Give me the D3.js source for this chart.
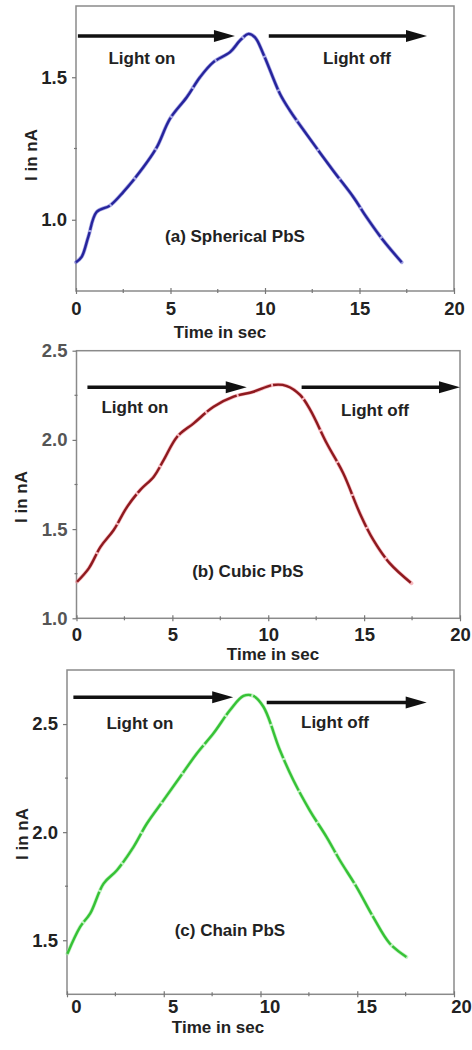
<!DOCTYPE html>
<html>
<head>
<meta charset="utf-8">
<script src="https://cdn.jsdelivr.net/npm/d3@7"></script>
<style>
  body { margin: 0; background: #fff; }
  text { font-family: "Liberation Sans", Arial, sans-serif; font-weight: bold; }
</style>
</head>
<body>
<div id="wrapper"></div>
<script>
// time axis (s) shared by all panels
const xTicks = [0, 5, 10, 15, 20];
const xMinor = [2.5, 7.5, 12.5, 17.5];

// (a) spherical PbS
const timeA = [0, 0.3, 0.65, 1.09, 1.8, 2.5, 3.56, 4.27, 4.97, 5.86, 6.56, 7.27, 8.15, 8.68, 9.12, 9.47, 9.91, 10.79, 11.32, 12.2, 13.6, 14.67, 15.37, 16.25, 17.23];
const currentA = [0.851, 0.87, 0.94, 1.027, 1.05, 1.097, 1.184, 1.254, 1.354, 1.43, 1.5, 1.553, 1.588, 1.629, 1.652, 1.64, 1.582, 1.442, 1.383, 1.30, 1.173, 1.08, 1.009, 0.928, 0.851];
const yTicksA = [1.0, 1.5];
const yMinorA = [1.25];

// (b) cubic PbS
const timeB = [0.03, 0.64, 1.25, 1.94, 2.64, 3.33, 4.03, 4.55, 5.25, 6.11, 7.15, 8.19, 9.23, 10.27, 10.97, 11.66, 12.19, 13.05, 13.91, 14.78, 15.48, 16.34, 17.47];
const currentB = [1.205, 1.28, 1.40, 1.495, 1.625, 1.72, 1.794, 1.888, 2.018, 2.093, 2.186, 2.242, 2.27, 2.308, 2.302, 2.252, 2.168, 1.981, 1.813, 1.588, 1.439, 1.308, 1.196];
const yTicksB = [1.0, 1.5, 2.0, 2.5];
const yMinorB = [1.25, 1.75, 2.25];

// (c) chain PbS
const timeC = [0.02, 0.68, 1.2, 1.89, 2.58, 3.44, 4.13, 4.99, 5.85, 6.71, 7.57, 8.43, 9.12, 9.63, 10.15, 11.0, 11.7, 12.55, 13.41, 14.1, 14.96, 15.82, 16.68, 17.54];
const currentC = [1.438, 1.562, 1.624, 1.762, 1.824, 1.932, 2.04, 2.148, 2.256, 2.364, 2.457, 2.565, 2.63, 2.63, 2.58, 2.38, 2.24, 2.10, 1.978, 1.87, 1.747, 1.608, 1.485, 1.423];
const yTicksC = [1.5, 2.0, 2.5];
const yMinorC = [1.75, 2.25];

// annotations, in data units: [x start, x end, y]
const arrowsA = [[0.1, 8.41, 1.645], [10.2, 18.57, 1.645]];
const arrowsB = [[0.57, 8.88, 2.295], [11.74, 20, 2.295]];
const arrowsC = [[0.33, 8.59, 2.624], [10.32, 18.59, 2.60]];
// [text, x, y]
const notesA = [["Light on", 3.49, 1.545], ["Light off", 14.87, 1.545], ["(a) Spherical PbS", 8.41, 0.923]];
const notesB = [["Light on", 3.05, 2.149], ["Light off", 15.57, 2.134], ["(b) Cubic PbS", 8.94, 1.23]];
const notesC = [["Light on", 3.77, 2.476], ["Light off", 13.85, 2.48], ["(c) Chain PbS", 8.42, 1.52]];

const xTitle = "Time in sec";
const yTitle = "I in nA";

const svg = d3.select("#wrapper")
    .append("svg")
    .attr("width", 472)
    .attr("height", 1050);

const panels = [
    { t: timeA, v: currentA, yDomain: [0.75, 1.75], yTicks: yTicksA, yMinor: yMinorA, arrows: arrowsA, notes: notesA,
      left: 76, right: 454, top: 6, bottom: 291, color: "#26249c", halo: "#6a6ad0",
      xLabelPad: 8, xLabelDx: 0, xTitleX: 220, xTitleY: 338, yTitleX: 37, yTitleY: 155, yLabelColor: "#222" },
    { t: timeB, v: currentB, yDomain: [1.0, 2.5], yTicks: yTicksB, yMinor: yMinorB, arrows: arrowsB, notes: notesB,
      left: 76.5, right: 460, top: 350.7, bottom: 618.3, color: "#8e1a1f", halo: "#f08a94",
      xLabelPad: 7, xLabelDx: 0, xTitleX: 273, xTitleY: 660, yTitleX: 27, yTitleY: 497, yLabelColor: "#555" },
    { t: timeC, v: currentC, yDomain: [1.25, 2.75], yTicks: yTicksC, yMinor: yMinorC, arrows: arrowsC, notes: notesC,
      left: 67, right: 454, top: 670, bottom: 994.3, color: "#36c236", halo: "#9be89b",
      xLabelPad: 3, xLabelDx: 9, xTitleX: 218, xTitleY: 1033, yTitleX: 28, yTitleY: 834, yLabelColor: "#222" }
];

panels.forEach(p => drawPanel(p));

function drawPanel(p) {
    const xScale = d3.scaleLinear().domain([0, 20]).range([p.left, p.right]);
    const yScale = d3.scaleLinear().domain(p.yDomain).range([p.bottom, p.top]);
    const g = svg.append("g");

    // frame
    g.append("rect")
        .attr("x", p.left)
        .attr("y", p.top)
        .attr("width", p.right - p.left)
        .attr("height", p.bottom - p.top)
        .attr("fill", "none")
        .attr("stroke", "#8a8a8a")
        .attr("stroke-width", 1.5);

    // x axis
    const xAxis = g.append("g")
        .attr("transform", `translate(0,${p.bottom})`)
        .call(d3.axisBottom(xScale).tickValues(xTicks).tickFormat(d3.format("d"))
            .tickSize(3).tickPadding(p.xLabelPad));
    xAxis.select(".domain").remove();
    xAxis.selectAll(".tick line").attr("y1", -3).attr("y2", 3).attr("stroke", "#777").attr("stroke-width", 1.2);
    xAxis.selectAll(".tick text")
        .attr("font-size", 18.5)
        .attr("font-family", "Liberation Sans, Arial, sans-serif")
        .attr("fill", "#222")
        // keep the last label inside the page
        .attr("dx", (d, i, n) => i === n.length - 1 ? Math.min(p.xLabelDx, 7) : p.xLabelDx);
    g.selectAll(".xminor")
        .data(xMinor)
        .join("line")
        .attr("x1", d => xScale(d)).attr("x2", d => xScale(d))
        .attr("y1", p.bottom - 2).attr("y2", p.bottom + 2)
        .attr("stroke", "#777").attr("stroke-width", 1.2);

    // y axis
    const yAxis = g.append("g")
        .attr("transform", `translate(${p.left},0)`)
        .call(d3.axisLeft(yScale).tickValues(p.yTicks).tickFormat(d3.format(".1f"))
            .tickSize(4).tickPadding(5));
    yAxis.select(".domain").remove();
    yAxis.selectAll(".tick line").attr("stroke", "#777").attr("stroke-width", 1.2);
    yAxis.selectAll(".tick text")
        .attr("font-size", 18.5)
        .attr("font-family", "Liberation Sans, Arial, sans-serif")
        .attr("fill", p.yLabelColor);
    g.selectAll(".yminor")
        .data(p.yMinor)
        .join("line")
        .attr("x1", p.left - 2).attr("x2", p.left + 1)
        .attr("y1", d => yScale(d)).attr("y2", d => yScale(d))
        .attr("stroke", "#777").attr("stroke-width", 1.2);

    // axis titles
    g.append("text")
        .attr("x", p.xTitleX)
        .attr("y", p.xTitleY)
        .attr("text-anchor", "middle")
        .attr("font-size", 17)
        .attr("fill", "#222")
        .text(xTitle);
    g.append("text")
        .attr("transform", `translate(${p.yTitleX},${p.yTitleY}) rotate(-90)`)
        .attr("text-anchor", "middle")
        .attr("font-size", 17)
        .attr("fill", "#222")
        .text(yTitle);

    // curve
    const points = p.t.map((d, i) => [d, p.v[i]]);
    const line = d3.line()
        .x(d => xScale(d[0]))
        .y(d => yScale(d[1]))
        .curve(d3.curveCatmullRom.alpha(0.5));
    g.append("path")
        .datum(points)
        .attr("d", line)
        .attr("fill", "none")
        .attr("stroke", p.halo)
        .attr("stroke-width", 3.8)
        .attr("stroke-linecap", "round")
        .attr("opacity", 0.6);
    g.append("path")
        .datum(points)
        .attr("d", line)
        .attr("fill", "none")
        .attr("stroke", p.color)
        .attr("stroke-width", 2.4)
        .attr("stroke-dasharray", "34 2");

    // arrows
    p.arrows.forEach(a => {
        const x1 = xScale(a[0]), x2 = xScale(a[1]), y = yScale(a[2]);
        g.append("line")
            .attr("x1", x1).attr("x2", x2 - 18)
            .attr("y1", y).attr("y2", y)
            .attr("stroke", "#111")
            .attr("stroke-width", 3.5);
        g.append("path")
            .attr("d", `M${x2},${y} L${x2 - 21},${y - 6} L${x2 - 21},${y + 6} Z`)
            .attr("fill", "#111");
    });

    // notes
    g.selectAll(".note")
        .data(p.notes)
        .join("text")
        .attr("x", d => xScale(d[1]))
        .attr("y", d => yScale(d[2]))
        .attr("text-anchor", "middle")
        .attr("font-size", 17)
        .attr("fill", "#222")
        .text(d => d[0]);
}
</script>
</body>
</html>
